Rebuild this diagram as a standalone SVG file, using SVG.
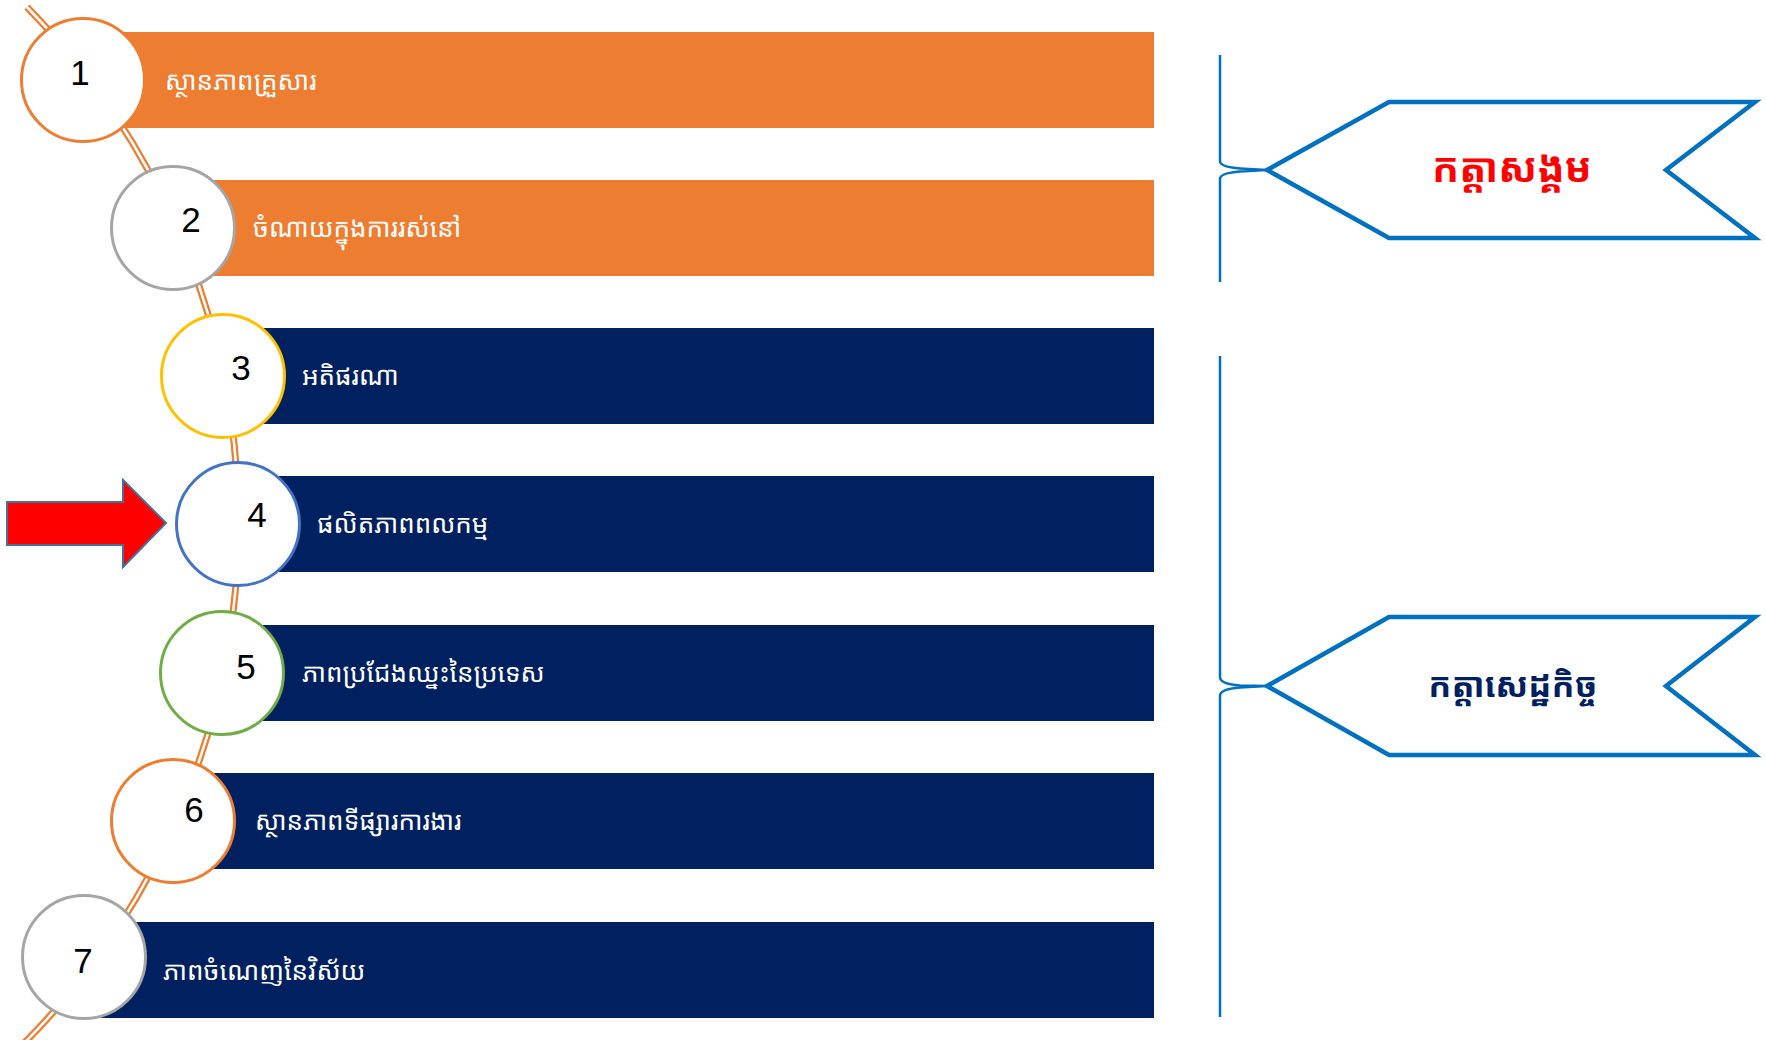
<svg xmlns="http://www.w3.org/2000/svg" width="1766" height="1040" viewBox="0 0 1766 1040">
<defs>
<style>
.bar-o{fill:#ED7D31}
.bar-n{fill:#002060}
.circ{fill:#FFFFFF;stroke-width:3}
.num{font-family:"Liberation Sans",Arial,sans-serif;font-size:35px;fill:#000000;text-anchor:middle}
.lbl{font-family:"Noto Sans Khmer","Khmer OS Siemreap","Khmer OS","Noto Sans",sans-serif;font-size:26px;fill:#FFFFFF}
.pen{fill:#FFFFFF;stroke:#0070C0;stroke-width:4.5;stroke-linejoin:miter}
.brace{fill:none;stroke:#0070C0;stroke-width:2.5}
.ptxt{font-family:"Noto Sans Khmer","Khmer OS Muol","Khmer OS","Noto Sans",sans-serif;font-weight:bold;text-anchor:middle}
</style>
</defs>
<rect width="1766" height="1040" fill="#FFFFFF"/>
<g id="connectors">
<path d="M27,7 A737,737 0 0 1 22.3,1045" fill="none" stroke="#ED7D31" stroke-width="7"/>
<path d="M27,7 A737,737 0 0 1 22.3,1045" fill="none" stroke="#FFFFFF" stroke-width="2.5"/>
</g>
<g id="node1">
<rect class="bar-o" x="83" y="32" width="1071" height="96"/>
<circle class="circ" cx="83" cy="80" r="61.5" stroke="#ED7D31"/>
<text class="num" x="80" y="85">1</text>
<text class="lbl" x="165" y="90">ស្ថានភាពគ្រួសារ</text>
</g>
<g id="node2">
<rect class="bar-o" x="173" y="180" width="981" height="96"/>
<circle class="circ" cx="173" cy="228" r="61.5" stroke="#A5A5A5"/>
<text class="num" x="191" y="232">2</text>
<text class="lbl" x="253" y="237">ចំណាយក្នុងការរស់នៅ</text>
</g>
<g id="node3">
<rect class="bar-n" x="223" y="328" width="931" height="96"/>
<circle class="circ" cx="223" cy="376" r="61.5" stroke="#FFC000"/>
<text class="num" x="241" y="380">3</text>
<text class="lbl" x="302" y="385">អតិផរណា</text>
</g>
<g id="node4">
<rect class="bar-n" x="238" y="476" width="916" height="96"/>
<circle class="circ" cx="238" cy="524" r="61.5" stroke="#4472C4"/>
<text class="num" x="257" y="527">4</text>
<text class="lbl" x="317" y="533">ផលិតភាពពលកម្ម</text>
</g>
<g id="node5">
<rect class="bar-n" x="222" y="625" width="932" height="96"/>
<circle class="circ" cx="222" cy="673" r="61.5" stroke="#70AD47"/>
<text class="num" x="246" y="679">5</text>
<text class="lbl" x="302" y="682">ភាពប្រជែងឈ្នះនៃប្រទេស</text>
</g>
<g id="node6">
<rect class="bar-n" x="173" y="773" width="981" height="96"/>
<circle class="circ" cx="173" cy="821" r="61.5" stroke="#ED7D31"/>
<text class="num" x="194" y="822">6</text>
<text class="lbl" x="255" y="830">ស្ថានភាពទីផ្សារការងារ</text>
</g>
<g id="node7">
<rect class="bar-n" x="84" y="922" width="1070" height="96"/>
<circle class="circ" cx="84" cy="957" r="61.5" stroke="#A5A5A5"/>
<text class="num" x="83" y="973">7</text>
<text class="lbl" x="163" y="980">ភាពចំណេញនៃវិស័យ</text>
</g>
<g id="arrow">
<polygon points="7,502 123,502 123,480 166,523 123,567 123,545 7,545" fill="#FF0000" stroke="#41719C" stroke-width="2"/>
</g>
<g id="social">
<path class="brace" d="M1220,55 L1220,161 Q1220,167 1240,168.5 L1267,170 L1240,171.5 Q1220,173 1220,179 L1220,282"/>
<polygon class="pen" points="1267,170 1389,102 1755,102 1666,170 1755,238 1389,238"/>
<text class="ptxt" x="1512" y="182" fill="#FF0000" font-size="40">កត្តាសង្គម</text>
</g>
<g id="economic">
<path class="brace" d="M1220,356 L1220,677 Q1220,684 1240,685.5 L1267,686 L1240,687.5 Q1220,689 1220,696 L1220,1017"/>
<polygon class="pen" points="1267,686 1389,617 1755,617 1666,686 1755,755 1389,755"/>
<text class="ptxt" x="1513" y="697" fill="#002060" font-size="34">កត្តាសេដ្ឋកិច្ច</text>
</g>
</svg>
